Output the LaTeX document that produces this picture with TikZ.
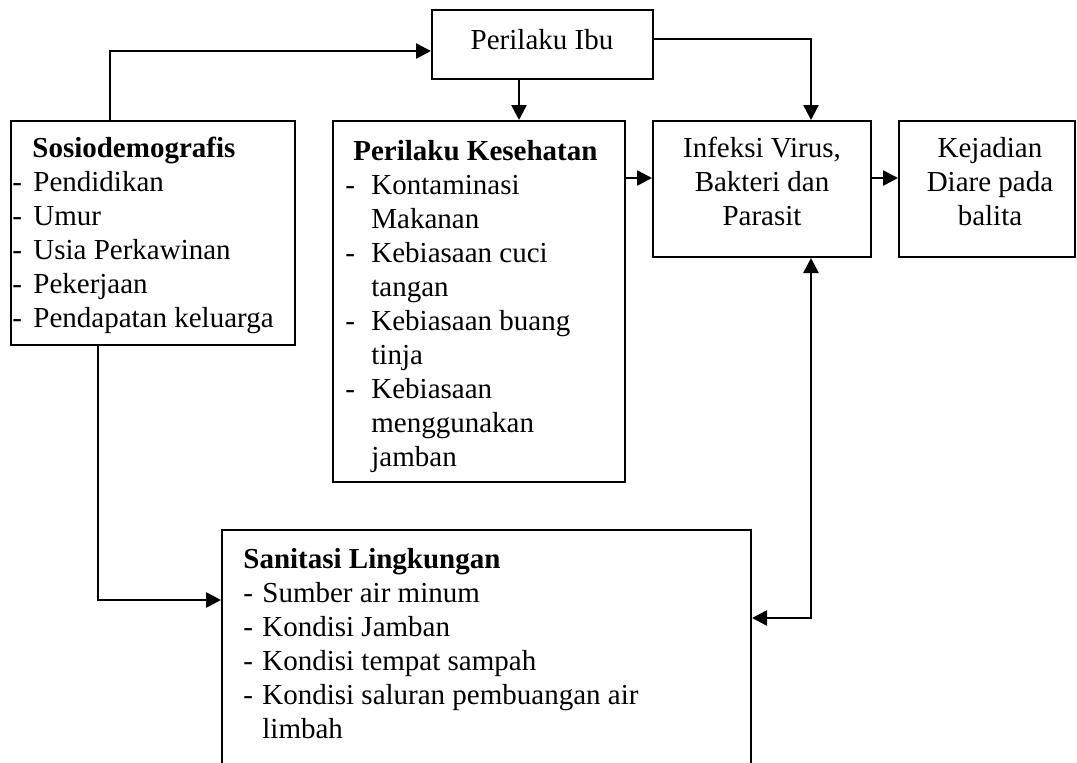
\documentclass[tikz,border=0pt]{standalone}
\usepackage{fontspec}
\setmainfont{Liberation Serif}
\usetikzlibrary{arrows.meta,fit}
\begin{document}
\begin{tikzpicture}[x=0.5pt,y=-0.5pt,
  box/.style={draw, line width=1pt, inner sep=0pt},
  txt/.style={inner sep=0pt, font=\fontsize{14.5}{17}\selectfont},
  arr/.style={line width=1.3pt, -{Triangle[length=7.5pt,width=7.5pt]}},
  arrb/.style={line width=1.3pt, {Triangle[length=7.5pt,width=7.5pt]}-{Triangle[length=7.5pt,width=7.5pt]}}]
\useasboundingbox (0,0) rectangle (1077,762);
\clip (0,0) rectangle (1077,762);
% boxes
\node[box, fit={(432,10) (653,79)}] (ibu) {};
\node[box, fit={(11,121) (295,345)}] (sosio) {};
\node[box, fit={(333,121) (625,482)}] (kes) {};
\node[box, fit={(653,121) (871,257)}] (inf) {};
\node[box, fit={(899,121) (1075,257)}] (kej) {};
\node[box, fit={(222,530) (751,800)}] (san) {};
% texts
\node[txt, anchor=base] (tibu) at (542,49) {Perilaku Ibu};
\node[txt, anchor=base west] (tsosio) at (12,157) {\begin{tabular}[t]{@{}l@{}}
\hspace*{10pt}\textbf{Sosiodemografis}\\
\makebox[10.5pt][l]{-}Pendidikan\\
\makebox[10.5pt][l]{-}Umur\\
\makebox[10.5pt][l]{-}Usia Perkawinan\\
\makebox[10.5pt][l]{-}Pekerjaan\\
\makebox[10.5pt][l]{-}Pendapatan keluarga
\end{tabular}};
\node[txt, anchor=base west] (tkes) at (345,160) {\begin{tabular}[t]{@{}l@{}}
\hspace*{4pt}\textbf{Perilaku Kesehatan}\\
\makebox[13pt][l]{-}Kontaminasi\\
\hspace*{13pt}Makanan\\
\makebox[13pt][l]{-}Kebiasaan cuci\\
\hspace*{13pt}tangan\\
\makebox[13pt][l]{-}Kebiasaan buang\\
\hspace*{13pt}tinja\\
\makebox[13pt][l]{-}Kebiasaan\\
\hspace*{13pt}menggunakan\\
\hspace*{13pt}jamban
\end{tabular}};
\node[txt, anchor=base] (tinf) at (762,157) {\begin{tabular}[t]{@{}c@{}}
Infeksi Virus,\\ Bakteri dan\\ Parasit
\end{tabular}};
\node[txt, anchor=base] (tkej) at (990,157) {\begin{tabular}[t]{@{}c@{}}
Kejadian\\ Diare pada\\ balita
\end{tabular}};
\node[txt, anchor=base west] (tsan) at (243,568) {\begin{tabular}[t]{@{}l@{}}
\textbf{Sanitasi Lingkungan}\\
\makebox[9.5pt][l]{-}Sumber air minum\\
\makebox[9.5pt][l]{-}Kondisi Jamban\\
\makebox[9.5pt][l]{-}Kondisi tempat sampah\\
\makebox[9.5pt][l]{-}Kondisi saluran pembuangan air\\
\hspace*{9.5pt}limbah
\end{tabular}};
% junction coordinates
\coordinate (j1) at (110,51);
\coordinate (j2) at (519,0);
\coordinate (j3) at (811,39);
\coordinate (j4) at (0,178);
\coordinate (j5) at (98,600);
\coordinate (j6) at (0,618);
% connectors
\draw[arr] (sosio.north -| j1) |- (ibu.west |- j1);
\draw[arr] (ibu.south -| j2) -- (kes.north -| j2);
\draw[arr] (ibu.east |- j3) -| (inf.north -| j3);
\draw[arr] (kes.east |- j4) -- (inf.west |- j4);
\draw[arr] (inf.east |- j4) -- (kej.west |- j4);
\draw[arr] (sosio.south -| j5) |- (san.west |- j5);
\draw[arrb] (inf.south -| j3) |- (san.east |- j6);
\end{tikzpicture}
\end{document}
